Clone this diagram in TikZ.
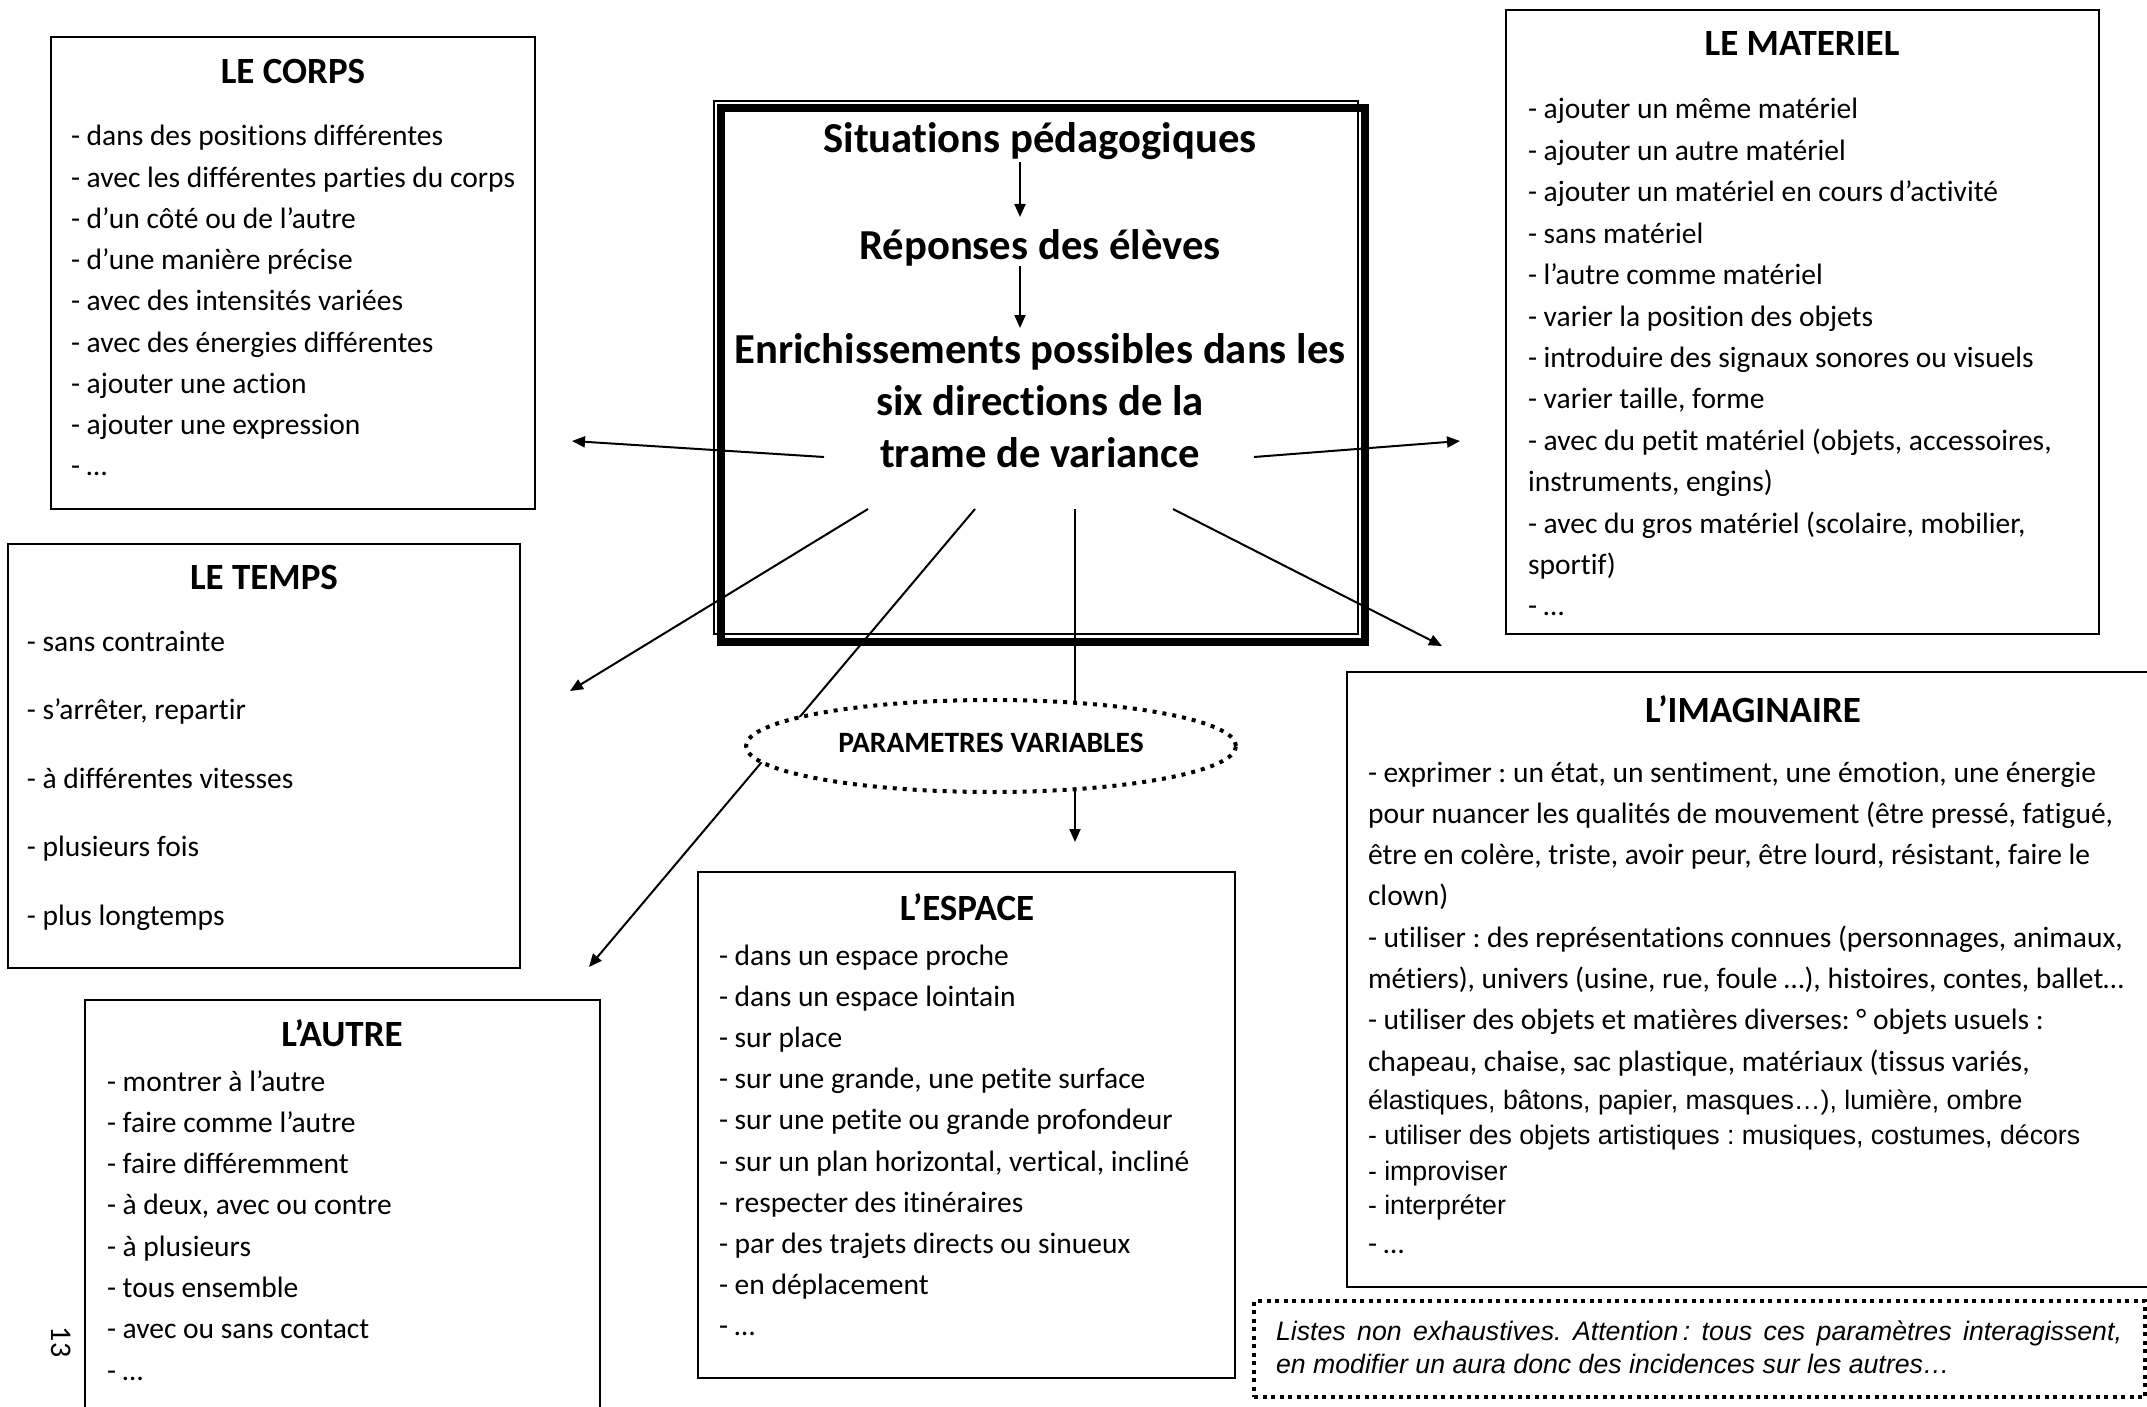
\documentclass[tikz,border=0pt]{standalone}
\usepackage{fontspec}
\setmainfont{Carlito}[Ligatures=NoCommon]
\newfontfamily\arialfont{Liberation Sans}
\usetikzlibrary{arrows.meta,shapes.geometric}
\frenchspacing
\begin{document}
\frenchspacing
\begin{tikzpicture}[x=1pt,y=-1pt,
  every node/.style={outer sep=0pt},
  box/.style={draw, line width=2pt, inner sep=0pt, anchor=north west},
  itm/.style={anchor=base west, inner sep=0pt, font=\frenchspacing\fontsize{29.5}{35}\selectfont},
  aitm/.style={anchor=base west, inner sep=0pt, font=\frenchspacing\arialfont\fontsize{26.7}{32}\selectfont},
  ttl/.style={anchor=base, inner sep=0pt, font=\bfseries\fontsize{37}{44}\selectfont},
  ctr/.style={anchor=base, inner sep=0pt, font=\bfseries\fontsize{42.7}{52}\selectfont},
  conn/.style={line width=2pt, -{Triangle[width=11pt,length=13pt]}},
  plainline/.style={line width=2pt},
  dotline/.style={line width=4pt, dash pattern=on 4pt off 4.5pt},
  dotell/.style={line width=4pt, dash pattern=on 4pt off 6pt}
]
\useasboundingbox (0,0) rectangle (2147,1407);
\fill[white] (0,0) rectangle (2147,1407);

% ---------- central box ----------
\node[draw, line width=8pt, inner sep=0pt, anchor=north west, minimum width=643.5pt, minimum height=534pt] (center) at (721,108) {};
\node[draw, line width=1.5pt, inner sep=0pt, anchor=north west, minimum width=644pt, minimum height=533pt] (centerthin) at (714,101) {};
\node[ctr] (sit) at (1040,153) {Situations pédagogiques};
\node[ctr] (rep) at (1040,259) {Réponses des élèves};
\node[ctr] (enr1) at (1040,363) {Enrichissements possibles dans les};
\node[ctr] (enr2) at (1040,415) {six directions de la};
\node[ctr] (enr3) at (1040,467) {trame de variance};
\coordinate (s1a) at (1020,162); \coordinate (s1b) at (1020,217);
\coordinate (s2a) at (1020,266); \coordinate (s2b) at (1020,328);
\draw[conn] (s1a) -- (s1b);
\draw[conn] (s2a) -- (s2b);

% ---------- LE CORPS ----------
\node[box, minimum width=484pt, minimum height=472pt] (corps) at (51,37) {};
\node[ttl] (corpsT) at (293,84) {LE CORPS};
\foreach \t [count=\i from 0] in {
  - dans des positions différentes,
  - avec les différentes parties du corps,
  - d’un côté ou de l’autre,
  - d’une manière précise,
  - avec des intensités variées,
  - avec des énergies différentes,
  - ajouter une action,
  - ajouter une expression,
  - …}
  \node[itm] (corps\i) at (71,{146+\i*41.2}) {\t};

% ---------- LE TEMPS ----------
\node[box, minimum width=512pt, minimum height=424pt] (temps) at (8,544) {};
\node[ttl] (tempsT) at (264,589) {LE TEMPS};
\foreach \t [count=\i from 0] in {
  - sans contrainte,
  {- s’arrêter, repartir},
  - à différentes vitesses,
  - plusieurs fois,
  - plus longtemps}
  \node[itm] (temps\i) at (27,{651+\i*68.5}) {\t};

% ---------- L'AUTRE ----------
\node[box, minimum width=515pt, minimum height=440pt] (autre) at (85,1000) {};
\node[ttl] (autreT) at (342,1046) {L’AUTRE};
\foreach \t [count=\i from 0] in {
  - montrer à l’autre,
  - faire comme l’autre,
  - faire différemment,
  {- à deux, avec ou contre},
  - à plusieurs,
  - tous ensemble,
  - avec ou sans contact,
  - …}
  \node[itm] (autre\i) at (107,{1091+\i*41.3}) {\t};
\node[rotate=-90, inner sep=0pt, font=\fontsize{30}{34}\selectfont] (pagenum) at (61,1342) {13};

% ---------- L'ESPACE ----------
\node[box, minimum width=537pt, minimum height=506pt] (espace) at (698,872) {};
\node[ttl] (espaceT) at (967,920) {L’ESPACE};
\foreach \t [count=\i from 0] in {
  - dans un espace proche,
  - dans un espace lointain,
  - sur place,
  {- sur une grande, une petite surface},
  - sur une petite ou grande profondeur,
  {- sur un plan horizontal, vertical, incliné},
  - respecter des itinéraires,
  - par des trajets directs ou sinueux,
  - en déplacement,
  - …}
  \node[itm] (espace\i) at (719,{965+\i*41.2}) {\t};

% ---------- LE MATERIEL ----------
\node[box, minimum width=593pt, minimum height=624pt] (materiel) at (1506,10) {};
\node[ttl] (materielT) at (1802,56) {LE MATERIEL};
\foreach \t [count=\i from 0] in {
  - ajouter un même matériel,
  - ajouter un autre matériel,
  - ajouter un matériel en cours d’activité,
  - sans matériel,
  - l’autre comme matériel,
  - varier la position des objets,
  - introduire des signaux sonores ou visuels,
  {- varier taille, forme},
  {- avec du petit matériel (objets, accessoires,},
  {instruments, engins)},
  {- avec du gros matériel (scolaire, mobilier,},
  {sportif)},
  - …}
  \node[itm] (materiel\i) at (1528,{119+\i*41.4}) {\t};

% ---------- L'IMAGINAIRE ----------
\node[box, minimum width=820pt, minimum height=615pt] (imag) at (1347,672) {};
\node[ttl] (imagT) at (1753,722) {L’IMAGINAIRE};
\foreach \t [count=\i from 0] in {
  {- exprimer : un état, un sentiment, une émotion, une énergie},
  {pour nuancer les qualités de mouvement (être pressé, fatigué,},
  {être en colère, triste, avoir peur, être lourd, résistant, faire le},
  {clown)},
  {- utiliser : des représentations connues (personnages, animaux,},
  {métiers), univers (usine, rue, foule …), histoires, contes, ballet…},
  {- utiliser des objets et matières diverses: ° objets usuels :},
  {chapeau, chaise, sac plastique, matériaux (tissus variés,}}
  \node[itm] (imag\i) at (1368,{782+\i*41.3}) {\t};
\node[aitm] (imag8) at (1368,1109) {élastiques, bâtons, papier, masques…), lumière, ombre};
\node[aitm] (imag9) at (1368,1144) {- utiliser des objets artistiques : musiques, costumes, décors};
\node[aitm] (imag10) at (1368,1180) {- improviser};
\node[aitm] (imag11) at (1368,1214) {- interpréter};
\node[itm] (imag12) at (1368,1253) {- …};

% ---------- note ----------
\node[draw, dotline, inner sep=0pt, anchor=north west, minimum width=891pt, minimum height=96pt] (note) at (1254,1301) {};
\node[anchor=base west, inner sep=0pt, font=\frenchspacing\arialfont\itshape\fontsize{26.7}{33}\selectfont] (note1) at (1276,1340)
  {\makebox[846pt][s]{Listes non exhaustives. Attention\,: tous ces paramètres interagissent,}};
\node[anchor=base west, inner sep=0pt, font=\frenchspacing\arialfont\itshape\fontsize{26.7}{33}\selectfont] (note2) at (1276,1373)
  {en modifier un aura donc des incidences sur les autres…};

% ---------- connectors ----------
\coordinate (oC) at (824,457);  \coordinate (eC) at (572,441);
\coordinate (oM) at (1254,457); \coordinate (eM) at (1460,441);
\coordinate (oT) at (868,509);  \coordinate (eT) at (570,691);
\coordinate (oA) at (975,509);  \coordinate (eA) at (589,967);
\coordinate (oE) at (1075,509); \coordinate (mE) at (1075,750); \coordinate (eE) at (1075,842);
\coordinate (oI) at (1173,509); \coordinate (eI) at (1442,646);
\draw[conn] (oC) -- (eC);
\draw[conn] (oM) -- (eM);
\draw[conn] (oT) -- (eT);
\draw[conn] (oA) -- (eA);
\draw[plainline] (oE) -- (mE);
\draw[conn] (mE) -- (eE);
\draw[conn] (oI) -- (eI);

% ---------- ellipse ----------
\node[draw, dotell, fill=white, ellipse, minimum width=490pt, minimum height=92pt, inner sep=0pt] (param) at (991,746) {};
\node[anchor=base, inner sep=0pt, font=\bfseries\fontsize{29.5}{35}\selectfont] (paramT) at (991,752) {PARAMETRES VARIABLES};
\end{tikzpicture}
\end{document}
